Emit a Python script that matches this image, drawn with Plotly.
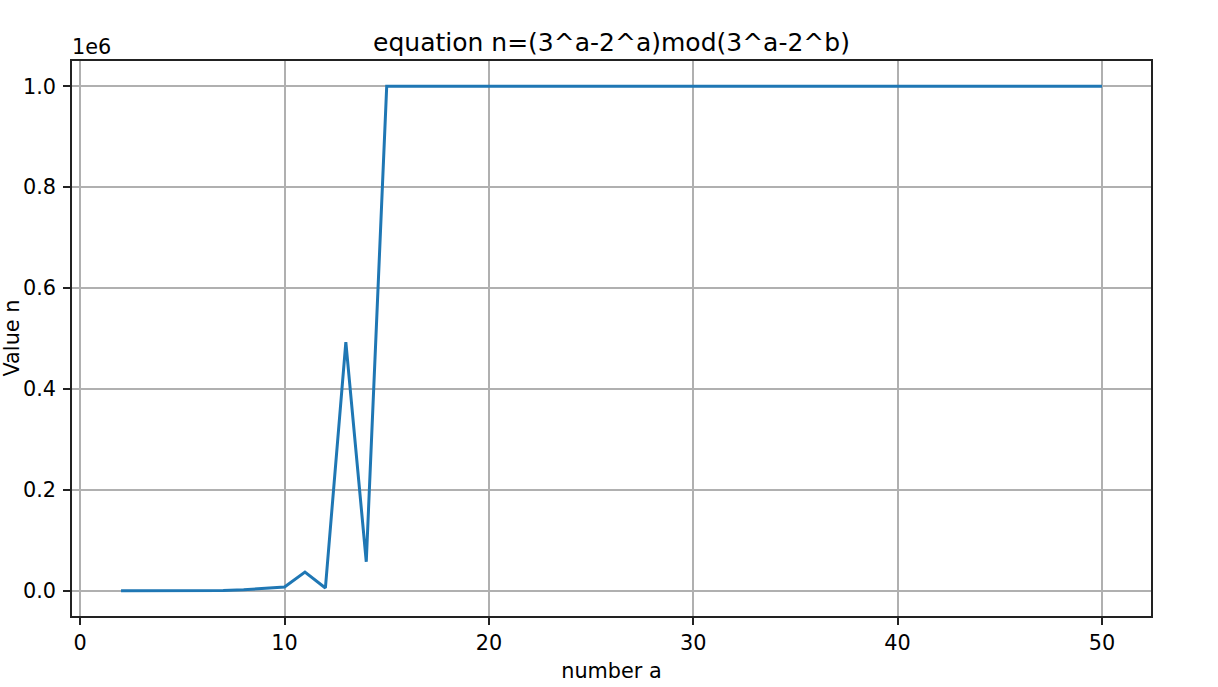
import plotly.graph_objects as go

a_values = list(range(2, 51))
n_values = [1, 5, 19, 65, 211, 665, 2059, 4500, 7500, 37000, 5500, 493000, 57500] + [1000000] * 36

x_ticks = [0, 10, 20, 30, 40, 50]
y_ticks = [0, 200000, 400000, 600000, 800000, 1000000]
y_tick_labels = ["0.0", "0.2", "0.4", "0.6", "0.8", "1.0"]

W, H = 1218, 687
L, R, T, B = 72, 67, 61, 71
pw = W - L - R
ph = H - T - B

fig = go.Figure()
fig.add_trace(go.Scatter(x=a_values, y=n_values, mode="lines",
                         line=dict(color="#1f77b4", width=3), showlegend=False))

font = "DejaVu Sans"
fs = 20.8
axis_common = dict(showgrid=True, gridcolor="#b0b0b0", gridwidth=1.6,
                   showline=True, linecolor="#222222", linewidth=1.6, mirror=True,
                   ticks="outside", ticklen=7, tickwidth=1.6, tickcolor="#222222",
                   zeroline=False, automargin=False,
                   tickfont=dict(family=font, size=fs, color="black"))

fig.update_layout(
    width=W, height=H,
    margin=dict(l=L, r=R, t=T, b=B),
    paper_bgcolor="white", plot_bgcolor="white",
    font=dict(family=font, color="black"),
    title=dict(text="equation n=(3^a-2^a)mod(3^a-2^b)", x=(L + pw / 2) / W, xanchor="center",
               y=1 - 42 / H, yanchor="middle", font=dict(family=font, size=25, color="black")),
    xaxis=dict(range=[-0.4, 52.4], tickvals=x_ticks, ticklabelstandoff=0, **axis_common),
    yaxis=dict(range=[-50000, 1050000], tickvals=y_ticks, ticktext=y_tick_labels,
               ticklabelstandoff=3, **axis_common),
)
fig.update_xaxes(title=dict(text="number a", font=dict(family=font, size=fs), standoff=10))

fig.add_annotation(text="Value n", xref="paper", yref="paper", x=(11 - L) / pw, y=0.5,
                   xanchor="center", yanchor="middle", textangle=-90, showarrow=False,
                   font=dict(family=font, size=fs, color="black"))
fig.add_annotation(text="1e6", xref="paper", yref="paper", x=0, y=1, xanchor="left",
                   yanchor="bottom", showarrow=False, xshift=-2, yshift=0,
                   font=dict(family=font, size=fs, color="black"))

fig.write_html("out.html", config={"displayModeBar": False},
               post_script="document.body.style.margin='0';document.body.style.overflow='hidden';")
